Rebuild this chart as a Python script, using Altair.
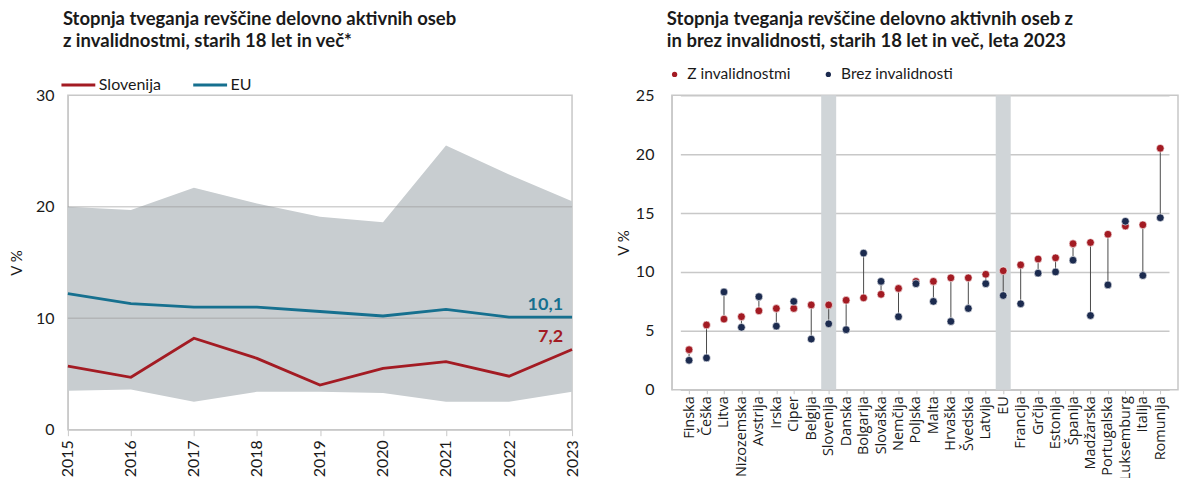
import altair as alt
import pandas as pd

# ---- Left chart data ----
years = [2015, 2016, 2017, 2018, 2019, 2020, 2021, 2022, 2023]
slovenija = [5.7, 4.7, 8.2, 6.4, 4.0, 5.5, 6.1, 4.8, 7.2]
eu = [12.2, 11.3, 11.0, 11.0, 10.6, 10.2, 10.8, 10.1, 10.1]
eu_max = [20.0, 19.7, 21.7, 20.3, 19.1, 18.6, 25.5, 22.9, 20.5]
eu_min = [3.5, 3.6, 2.5, 3.4, 3.4, 3.3, 2.5, 2.5, 3.4]

# ---- Right chart data ----
countries = ["Finska", "Češka", "Litva", "Nizozemska", "Avstrija", "Irska", "Ciper",
             "Belgija", "Slovenija", "Danska", "Bolgarija", "Slovaška", "Nemčija",
             "Poljska", "Malta", "Hrvaška", "Švedska", "Latvija", "EU", "Francija",
             "Grčija", "Estonija", "Španija", "Madžarska", "Portugalska", "Luksemburg",
             "Italija", "Romunija"]
z_inv = [3.4, 5.5, 6.0, 6.2, 6.7, 6.9, 6.9, 7.2, 7.2, 7.6, 7.8, 8.1, 8.6,
         9.2, 9.2, 9.5, 9.5, 9.8, 10.1, 10.6, 11.1, 11.2, 12.4, 12.5, 13.2, 13.9,
         14.0, 20.5]
brez_inv = [2.5, 2.7, 8.3, 5.3, 7.9, 5.4, 7.5, 4.3, 5.6, 5.1, 11.6, 9.2, 6.2,
            9.0, 7.5, 5.8, 6.9, 9.0, 8.0, 7.3, 9.9, 10.0, 11.0, 6.3, 8.9, 14.3,
            9.7, 14.6]
highlight = ["Slovenija", "EU"]

FONT = "Lato"
RED = "#a31b23"
TEAL = "#16708f"
NAVY = "#1c2b4f"
AREA = "#c8cdd0"
BORDER = "#c8c8c8"

# ---------------- Left chart ----------------
band_df = pd.DataFrame({"year": years, "lo": eu_min, "hi": eu_max})
line_df = pd.DataFrame({
    "year": years * 2,
    "value": slovenija + eu,
    "series": ["Slovenija"] * len(years) + ["EU"] * len(years),
})
end_df = pd.DataFrame({
    "year": [years[-1], years[-1]],
    "value": [slovenija[-1], eu[-1]],
    "series": ["Slovenija", "EU"],
    "label": [f"{slovenija[-1]:.1f}".replace(".", ","), f"{eu[-1]:.1f}".replace(".", ",")],
})
grid_left = pd.DataFrame({"v": [10, 20]})

xl = alt.X("year:Q", scale=alt.Scale(domain=[2015, 2023], nice=False),
           axis=alt.Axis(values=years, format="d", labelAngle=270, title=None,
                         grid=False, tickSize=6, tickColor=BORDER, domainColor=BORDER,
                         labelFontSize=16, labelPadding=4, labelFont=FONT, labelColor="#1a1a1a"))
yl_scale = alt.Scale(domain=[0, 30], nice=False)

area = alt.Chart(band_df).mark_area(color=AREA, opacity=1).encode(
    x=xl,
    y=alt.Y("lo:Q", scale=yl_scale,
            axis=alt.Axis(values=[0, 10, 20, 30], title="V %", grid=False, ticks=False,
                          domainColor=BORDER, labelFontSize=16, labelPadding=14,
                          labelFont=FONT, labelColor="#1a1a1a", titleFont=FONT,
                          titleFontSize=15, titleFontWeight="normal", titleColor="#1a1a1a",
                          titlePadding=11)),
    y2="hi:Q",
)
grid_l = alt.Chart(grid_left).mark_rule(color="#999999", opacity=0.45, strokeWidth=1.5).encode(
    y=alt.Y("v:Q", scale=yl_scale)
)
lines = alt.Chart(line_df).mark_line(strokeWidth=2.8).encode(
    x="year:Q",
    y=alt.Y("value:Q", scale=yl_scale),
    color=alt.Color("series:N",
                    scale=alt.Scale(domain=["Slovenija", "EU"], range=[RED, TEAL]),
                    legend=alt.Legend(title=None, orient="none", direction="horizontal",
                                      legendX=-8, legendY=-29, symbolType="stroke",
                                      symbolStrokeWidth=3, symbolSize=1150,
                                      labelFont=FONT, labelFontSize=16, labelColor="#1a1a1a",
                                      labelOffset=2, columnPadding=25)),
)
labels = alt.Chart(end_df).mark_text(align="right", dx=-9, dy=-12, fontSize=18,
                                     fontWeight="bold", font=FONT).encode(
    x="year:Q",
    y=alt.Y("value:Q", scale=yl_scale),
    text="label:N",
    color=alt.Color("series:N", scale=alt.Scale(domain=["Slovenija", "EU"], range=[RED, TEAL]),
                    legend=None),
)

left = alt.layer(area, grid_l, lines, labels).properties(
    width=505, height=335,
    title=alt.TitleParams(
        text=["Stopnja tveganja revščine delovno aktivnih oseb",
              "z invalidnostmi, starih 18 let in več*"],
        anchor="start", frame="group", dx=-5, offset=16),
)

# ---------------- Right chart ----------------
pts_df = pd.DataFrame({
    "country": countries * 2,
    "value": z_inv + brez_inv,
    "series": ["Z invalidnostmi"] * len(countries) + ["Brez invalidnosti"] * len(countries),
})
rule_df = pd.DataFrame({"country": countries, "z": z_inv, "b": brez_inv})
hl_df = pd.DataFrame({"country": highlight, "top": [25, 25], "bottom": [0, 0]})

xr = alt.X("country:N", sort=countries, scale=alt.Scale(type="point", range=[8.5, 498]),
           axis=alt.Axis(title=None, labelAngle=270, tickSize=4, tickColor=BORDER,
                         domainColor=BORDER, labelFontSize=14.5, labelFont="Open Sans",
                         labelColor="#1a1a1a", labelPadding=2, grid=False))
yr_scale = alt.Scale(domain=[0, 25], nice=False)

hl = alt.Chart(hl_df).mark_bar(color="#d0d5d8", size=15).encode(
    x=xr,
    y=alt.Y("top:Q", scale=yr_scale,
            axis=alt.Axis(values=[0, 5, 10, 15, 20, 25], title="V %", grid=True,
                          gridColor=BORDER, gridWidth=1.5, ticks=False, domainColor=BORDER,
                          labelFontSize=16, labelPadding=18, labelFont=FONT,
                          labelColor="#1a1a1a", titleFont=FONT, titleFontSize=15,
                          titleFontWeight="normal", titleColor="#1a1a1a", titlePadding=4)),
    y2="bottom:Q",
)
stems = alt.Chart(rule_df).mark_rule(color="#4a4a4a", strokeWidth=1).encode(
    x=alt.X("country:N", sort=countries),
    y=alt.Y("z:Q", scale=yr_scale),
    y2="b:Q",
)
points = alt.Chart(pts_df).mark_circle(size=60, opacity=1, stroke="white",
                                       strokeWidth=0.6).encode(
    x=alt.X("country:N", sort=countries),
    y=alt.Y("value:Q", scale=yr_scale),
    color=alt.Color("series:N",
                    scale=alt.Scale(domain=["Z invalidnostmi", "Brez invalidnosti"],
                                    range=[RED, NAVY]),
                    legend=alt.Legend(title=None, orient="none", direction="horizontal",
                                      legendX=-5, legendY=-29, symbolType="circle",
                                      symbolSize=28, symbolStrokeWidth=0,
                                      labelFont=FONT, labelFontSize=15.5,
                                      labelColor="#1a1a1a", labelOffset=5,
                                      columnPadding=30)),
)

right = alt.layer(hl, stems, points).properties(
    width=507, height=295,
    title=alt.TitleParams(
        text=["Stopnja tveganja revščine delovno aktivnih oseb z",
              "in brez invalidnosti, starih 18 let in več, leta 2023"],
        anchor="start", frame="group", dx=-5, offset=16),
)

title_style = {"fontSize": 18.5, "font": FONT, "fontWeight": "bold", "lineHeight": 22,
               "color": "#1a1a1a"}

chart = alt.hconcat(left, right, spacing=34).resolve_scale(
    color="independent", y="independent", x="independent"
).resolve_legend(color="independent").configure(
    padding={"left": 0, "top": 0, "right": 0, "bottom": 0},
    background="white",
    view=alt.ViewConfig(stroke=BORDER, strokeWidth=1.5),
    title=alt.TitleConfig(offset=16, **title_style),
    style={"group-title": title_style},
)

chart.save("out.html", embed_options={"renderer": "svg", "actions": False})
